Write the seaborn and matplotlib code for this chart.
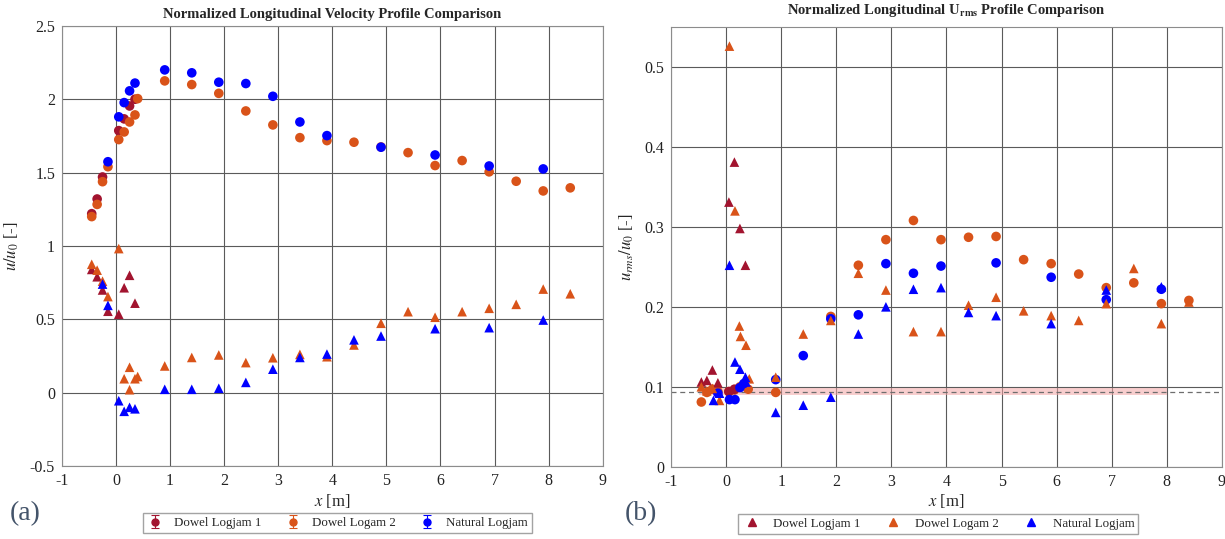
import numpy as np
import pandas as pd
import matplotlib
matplotlib.use("Agg")
import matplotlib.pyplot as plt
from matplotlib.ticker import FuncFormatter, MultipleLocator
from matplotlib.lines import Line2D
import seaborn as sns

# ---------------- data: u/u0 (panel a) ----------------
d1_u_circ_x = [-0.45, -0.35, -0.25, 0.05, 0.15, 0.25, 0.35]
d1_u_circ_y = [1.22, 1.32, 1.47, 1.786, 1.866, 1.954, 2.00]
d1_u_tri_x = [-0.45, -0.35, -0.25, -0.15, 0.05, 0.15, 0.25, 0.35]
d1_u_tri_y = [0.84, 0.79, 0.70, 0.555, 0.535, 0.715, 0.80, 0.61]

d2_u_circ_x = [-0.45, -0.35, -0.25, -0.15, 0.05, 0.15, 0.25, 0.35, 0.40, 0.9, 1.4, 1.9, 2.4,
               2.9, 3.4, 3.9, 4.4, 4.9, 5.4, 5.9, 6.4, 6.9, 7.4, 7.9, 8.4]
d2_u_circ_y = [1.20, 1.283, 1.438, 1.54, 1.725, 1.777, 1.845, 1.893, 2.004, 2.125, 2.10, 2.04, 1.92,
               1.825, 1.738, 1.718, 1.707, 1.675, 1.636, 1.548, 1.582, 1.505, 1.441, 1.375, 1.396]
d2_u_tri_x = [-0.45, -0.35, -0.25, -0.15, 0.05, 0.15, 0.25, 0.25, 0.35, 0.40, 0.9, 1.4, 1.9, 2.4,
              2.9, 3.4, 3.9, 4.4, 4.9, 5.4, 5.9, 6.4, 6.9, 7.4, 7.9, 8.4]
d2_u_tri_y = [0.875, 0.835, 0.76, 0.655, 0.982, 0.095, 0.173, 0.02, 0.095, 0.11, 0.182, 0.24, 0.257, 0.205,
              0.238, 0.261, 0.245, 0.325, 0.473, 0.552, 0.514, 0.552, 0.575, 0.602, 0.706, 0.674]

nat_u_circ_x = [-0.15, 0.05, 0.15, 0.25, 0.35, 0.9, 1.4, 1.9, 2.4, 2.9, 3.4, 3.9, 4.9, 5.9, 6.9, 7.9]
nat_u_circ_y = [1.574, 1.88, 1.977, 2.057, 2.11, 2.20, 2.18, 2.116, 2.107, 2.02, 1.845, 1.752,
                1.673, 1.62, 1.545, 1.525]
nat_u_tri_x = [-0.25, -0.15, 0.05, 0.15, 0.25, 0.35, 0.9, 1.4, 1.9, 2.4, 2.9, 3.4, 3.9, 4.4, 4.9,
               5.9, 6.9, 7.9]
nat_u_tri_y = [0.74, 0.595, -0.055, -0.127, -0.10, -0.11, 0.023, 0.023, 0.03, 0.07, 0.16, 0.24,
               0.263, 0.36, 0.386, 0.436, 0.443, 0.495]

# ---------------- data: urms/u0 (panel b) ----------------
d1_r_circ_x = [0.05, 0.15]
d1_r_circ_y = [0.094, 0.097]
d1_r_tri_x = [-0.45, -0.35, -0.25, -0.15, 0.05, 0.15, 0.25, 0.35]
d1_r_tri_y = [0.106, 0.108, 0.121, 0.105, 0.331, 0.381, 0.298, 0.252]

d2_r_circ_x = [-0.45, -0.35, -0.25, -0.15, 0.05, 0.15, 0.25, 0.40, 0.9, 1.9, 2.4, 2.9, 3.4, 3.9,
               4.4, 4.9, 5.4, 5.9, 6.4, 6.9, 7.4, 7.9, 8.4]
d2_r_circ_y = [0.081, 0.093, 0.097, 0.094, 0.094, 0.096, 0.10, 0.097, 0.093, 0.188, 0.252, 0.284,
               0.308, 0.284, 0.287, 0.288, 0.259, 0.254, 0.241, 0.224, 0.23, 0.204, 0.208]
d2_r_tri_x = [-0.45, -0.35, -0.25, -0.12, 0.06, 0.16, 0.24, 0.26, 0.36, 0.42, 0.9, 1.4, 1.9, 2.4,
              2.9, 3.4, 3.9, 4.4, 4.9, 5.4, 5.9, 6.4, 6.9, 7.4, 7.9, 8.4]
d2_r_tri_y = [0.10, 0.095, 0.098, 0.083, 0.526, 0.32, 0.176, 0.163, 0.152, 0.11, 0.112, 0.166,
              0.183, 0.242, 0.221, 0.169, 0.169, 0.202, 0.212, 0.195, 0.189, 0.183, 0.204, 0.248,
              0.179, 0.206]

nat_r_circ_x = [-0.15, 0.06, 0.16, 0.25, 0.32, 0.9, 1.4, 1.9, 2.4, 2.9, 3.4, 3.9, 4.9, 5.9, 6.9, 7.9]
nat_r_circ_y = [0.092, 0.084, 0.084, 0.099, 0.104, 0.109, 0.139, 0.185, 0.19, 0.254, 0.242, 0.251,
                0.255, 0.237, 0.209, 0.222]
nat_r_tri_x = [-0.23, -0.12, 0.06, 0.16, 0.25, 0.35, 0.36, 0.9, 1.4, 1.9, 2.4, 2.9, 3.4, 3.9, 4.4,
               4.9, 5.9, 6.9, 7.9]
nat_r_tri_y = [0.083, 0.092, 0.252, 0.131, 0.122, 0.112, 0.106, 0.068, 0.077, 0.087, 0.166, 0.20,
               0.222, 0.224, 0.193, 0.189, 0.179, 0.221, 0.225]

# reference level (free stream) and band
ref_level = 0.094
ref_band = (0.0895, 0.0985)
ref_band_x = (-0.5, 8.0)

series_names = ["Dowel Logjam 1", "Dowel Logam 2", "Natural Logjam"]
colors = {"Dowel Logjam 1": "#A2142F", "Dowel Logam 2": "#D95319", "Natural Logjam": "#0000FF"}


def make_frame(parts):
    rows = []
    for name, shape, xs, ys in parts:
        for x, y in zip(xs, ys):
            rows.append({"x": x, "y": y, "logjam": name, "shape": shape})
    return pd.DataFrame(rows)


df_u = make_frame([
    ("Dowel Logjam 1", "circle", d1_u_circ_x, d1_u_circ_y),
    ("Dowel Logjam 1", "triangle", d1_u_tri_x, d1_u_tri_y),
    ("Dowel Logam 2", "circle", d2_u_circ_x, d2_u_circ_y),
    ("Dowel Logam 2", "triangle", d2_u_tri_x, d2_u_tri_y),
    ("Natural Logjam", "circle", nat_u_circ_x, nat_u_circ_y),
    ("Natural Logjam", "triangle", nat_u_tri_x, nat_u_tri_y),
])
df_r = make_frame([
    ("Dowel Logam 2", "circle", d2_r_circ_x, d2_r_circ_y),
    ("Dowel Logjam 1", "circle", d1_r_circ_x, d1_r_circ_y),
    ("Natural Logjam", "circle", nat_r_circ_x, nat_r_circ_y),
    ("Dowel Logjam 1", "triangle", d1_r_tri_x, d1_r_tri_y),
    ("Dowel Logam 2", "triangle", d2_r_tri_x, d2_r_tri_y),
    ("Natural Logjam", "triangle", nat_r_tri_x, nat_r_tri_y),
])

sns.set_style("white")
plt.rcParams["font.family"] = ["Liberation Serif", "DejaVu Serif"]
plt.rcParams["mathtext.fontset"] = "stix"
plt.rcParams["axes.unicode_minus"] = False

fig = plt.figure(figsize=(12.25, 5.39), dpi=100)
ax1 = fig.add_axes([0.0506, 0.1354, 0.4414, 0.8166])
ax2 = fig.add_axes([0.5478, 0.134, 0.4497, 0.816])

fmt = FuncFormatter(lambda v, p: "%g" % round(v, 6))

for ax, df in [(ax1, df_u), (ax2, df_r)]:
    sns.scatterplot(data=df, x="x", y="y", hue="logjam", style="shape",
                    markers={"circle": "o", "triangle": "^"}, palette=colors,
                    s=48, linewidth=0, legend=False, ax=ax, zorder=3)
    ax.set_xlim(-1, 9)
    ax.xaxis.set_major_locator(MultipleLocator(1))
    ax.xaxis.set_major_formatter(fmt)
    ax.yaxis.set_major_formatter(fmt)
    ax.grid(True, color="#5a5a5a", linewidth=0.8)
    ax.set_axisbelow(True)
    for sp in ax.spines.values():
        sp.set_color("#8c8c8c")
        sp.set_linewidth(0.8)
    ax.tick_params(labelsize=11.5, length=0, pad=5, labelcolor="#222222")
    ax.set_xlabel("$x$ [m]", fontsize=12, labelpad=2)

ax1.set_ylim(-0.5, 2.5)
ax1.yaxis.set_major_locator(MultipleLocator(0.5))
ax1.set_ylabel("$u/u_0$ [-]", fontsize=12, labelpad=6)
ax1.set_title("Normalized Longitudinal Velocity Profile Comparison",
              fontsize=10.5, fontweight="bold", pad=6)

ax2.set_ylim(0, 0.55)
ax2.yaxis.set_major_locator(MultipleLocator(0.1))
ax2.set_ylabel("$u_{rms}/u_0$ [-]", fontsize=12, labelpad=6)
ax2.set_title(r"Normalized Longitudinal U$_{\mathbf{rms}}$ Profile Comparison",
              fontsize=10.5, fontweight="bold", pad=9)
ax2.fill_between(ref_band_x, ref_band[0], ref_band[1], color="#f4a6a6", alpha=0.55,
                 linewidth=0, zorder=1)
ax2.axhline(ref_level, color="#6e6e6e", linestyle=(0, (4, 3)), linewidth=0.9, zorder=2)

# legends
err_handles = []
for name in series_names:
    h = ax1.errorbar([np.nan], [np.nan], yerr=[0.1], fmt="o", color=colors[name],
                     ms=5, capsize=3, elinewidth=0.8, capthick=0.8, label=name)
    err_handles.append(h)
ax1.legend(handles=err_handles, loc="center", bbox_to_anchor=(0.51, -0.13), ncol=3,
           fontsize=9.3, frameon=True, fancybox=False, edgecolor="#8c8c8c",
           handletextpad=0.9, columnspacing=1.8, borderpad=0.3, handlelength=1.2)

tri_handles = [Line2D([], [], marker="^", linestyle="none", color=colors[n],
                      markersize=6, label=n) for n in series_names]
ax2.legend(handles=tri_handles, loc="center", bbox_to_anchor=(0.485, -0.13), ncol=3,
           fontsize=9.3, frameon=True, fancybox=False, edgecolor="#8c8c8c",
           handletextpad=0.9, columnspacing=1.8, borderpad=0.3, handlelength=1.5)

fig.text(0.008, 0.035, "(a)", fontsize=20, color="#44546a")
fig.text(0.51, 0.035, "(b)", fontsize=20, color="#44546a")

fig.savefig("out.png", dpi=100)
